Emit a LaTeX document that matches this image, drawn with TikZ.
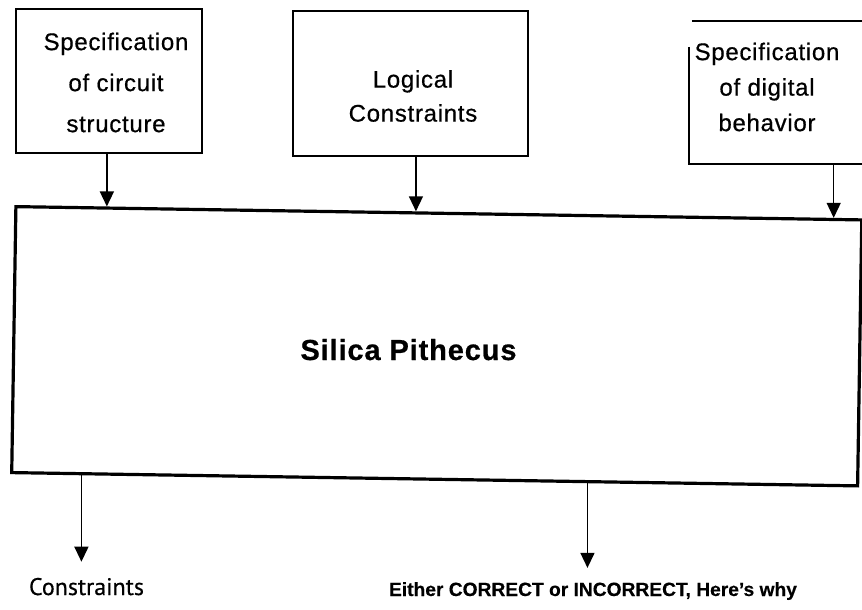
\documentclass[tikz,border=0pt]{standalone}
\usepackage{fontspec}
\setmainfont{Liberation Sans}[FakeBold=0.4]
\newfontfamily\spacedsans[LetterSpace=3,FakeBold=0.6]{Liberation Sans}
\newfontfamily\humanist[FakeBold=0.4]{PT Sans}
\usetikzlibrary{arrows.meta,calc}

\begin{document}
\begin{tikzpicture}[x=1pt,y=-1pt,
  inbox/.style={draw, line width=1.6pt, inner sep=0pt},
  bigbox/.style={draw, line width=3.2pt, inner sep=0pt,
    minimum width=846pt, minimum height=266pt, rotate=-0.9},
  boxtext/.style={align=center, inner sep=0pt, anchor=north},
  conn/.style={line width=1.4pt, -{Triangle[width=14pt,length=15pt]}},
]
\useasboundingbox (0,0) rectangle (862,610);
\fill[white] (0,0) rectangle (862,610);

% input boxes
\node[inbox, minimum width=186pt, minimum height=144pt] (b1) at (109,81) {};
\node[inbox, minimum width=235pt, minimum height=145pt] (b2) at (410.5,83.5) {};
\node[inner sep=0pt, minimum width=211pt, minimum height=143pt] (b3) at (794.5,92.5) {};
\draw[line width=1.6pt] ([xshift=3pt]b3.north west) -- (b3.north east);
\draw[line width=1.6pt] ([yshift=-26pt]b3.north west) -- (b3.south west) -- (b3.south east);

\node[boxtext, font=\spacedsans\fontsize{24}{41}\selectfont] (b1t) at (116,32.5)
  {Specification\\of circuit\\structure};
\node[boxtext, font=\spacedsans\fontsize{24}{34}\selectfont] (b2t) at (413,70)
  {Logical\\Constraints};
\node[boxtext, font=\spacedsans\fontsize{24}{35.5}\selectfont] (b3t) at (767,42.5)
  {Specification\\of digital\\behavior};

% main block
\node[bigbox] (main) at (436.75,346.25) {};
\node[anchor=base, inner sep=0pt, font=\spacedsans\bfseries\fontsize{29}{35}\selectfont]
  (title) at (408.5,360) {Silica Pithecus};

% points where the connectors meet the main block
\coordinate (t1) at ($(main.north west)!0.109!(main.north east)$);
\coordinate (t2) at ($(main.north west)!0.473!(main.north east)$);
\coordinate (t3) at ($(main.north west)!0.965!(main.north east)$);
\coordinate (o1) at ($(main.south west)!0.084!(main.south east)$);
\coordinate (o2) at ($(main.south west)!0.680!(main.south east)$);

% outputs
\node[anchor=base, inner sep=0pt, font=\humanist\fontsize{24}{28}\selectfont]
  (lab1) at (86.5,595) {Constraints};
\node[anchor=base, inner sep=0pt, font=\bfseries\fontsize{19.2}{23}\selectfont]
  (lab2) at (593,596) {Either CORRECT or INCORRECT, Here's why};

% connectors
\draw[conn] (t1 |- b1.south) -- (t1);
\draw[conn] (t2 |- b2.south) -- (t2);
\draw[conn] (t3 |- b3.south) -- (t3);
\draw[conn, shorten >=16pt] (o1) -- (o1 |- lab1.north);
\draw[conn, shorten >=14pt] (o2) -- (o2 |- lab2.north);
\end{tikzpicture}
\end{document}
